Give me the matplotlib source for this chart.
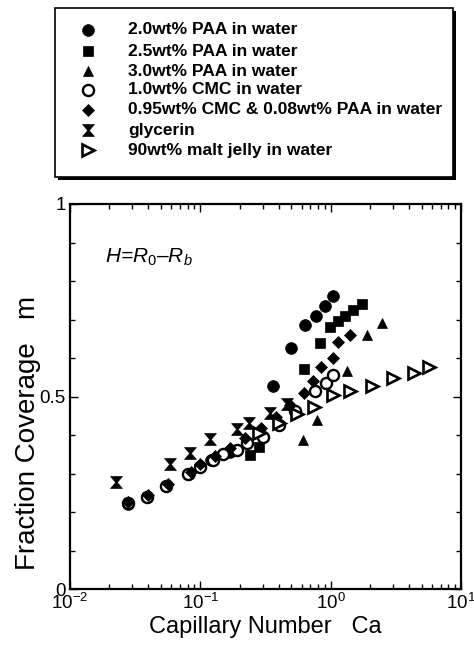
import numpy as np
import matplotlib
matplotlib.use('Agg')
import matplotlib.pyplot as plt
from matplotlib.path import Path
from matplotlib.patches import Rectangle
from matplotlib.ticker import LogLocator, FixedLocator, MultipleLocator, LogFormatterMathtext

plt.rcParams['font.family'] = ['Liberation Sans', 'DejaVu Sans']
plt.rcParams['mathtext.fontset'] = 'custom'
plt.rcParams['mathtext.rm'] = 'Liberation Sans'
plt.rcParams['mathtext.it'] = 'Liberation Sans:italic'
plt.rcParams['mathtext.bf'] = 'Liberation Sans:bold'

# capillary number / fraction coverage for each fluid
paa20_ca = [0.028, 0.039, 0.082, 0.12, 0.17, 0.36, 0.50, 0.64, 0.77, 0.90, 1.04]
paa20_m = [0.222, 0.238, 0.300, 0.335, 0.355, 0.527, 0.626, 0.686, 0.709, 0.734, 0.760]

paa25_ca = [0.24, 0.28, 0.62, 0.83, 0.99, 1.14, 1.29, 1.49, 1.74]
paa25_m = [0.348, 0.369, 0.571, 0.639, 0.681, 0.696, 0.709, 0.725, 0.740]

paa30_ca = [0.61, 0.79, 1.34, 1.90, 2.48]
paa30_m = [0.387, 0.439, 0.566, 0.660, 0.691]

cmc10_ca = [0.028, 0.039, 0.055, 0.080, 0.10, 0.125, 0.15, 0.19, 0.23, 0.30, 0.40, 0.53, 0.76, 0.92, 1.05]
cmc10_m = [0.223, 0.240, 0.268, 0.298, 0.318, 0.336, 0.350, 0.362, 0.378, 0.395, 0.425, 0.462, 0.514, 0.535, 0.556]

mix_ca = [0.028, 0.040, 0.056, 0.085, 0.10, 0.13, 0.17, 0.22, 0.29, 0.38, 0.49, 0.62, 0.73, 0.85, 1.05, 1.14, 1.41]
mix_m = [0.226, 0.243, 0.272, 0.305, 0.325, 0.345, 0.365, 0.392, 0.418, 0.448, 0.478, 0.508, 0.540, 0.577, 0.600, 0.642, 0.660]

gly_ca = [0.0225, 0.0585, 0.0834, 0.119, 0.19, 0.235, 0.34, 0.46]
gly_m = [0.278, 0.325, 0.352, 0.389, 0.415, 0.432, 0.457, 0.480]

malt_ca = [0.28, 0.40, 0.55, 0.74, 1.04, 1.41, 2.08, 3.01, 4.36, 5.69]
malt_m = [0.405, 0.430, 0.455, 0.473, 0.503, 0.514, 0.527, 0.548, 0.561, 0.577]

labels = ['2.0wt% PAA in water', '2.5wt% PAA in water', '3.0wt% PAA in water',
          '1.0wt% CMC in water', '0.95wt% CMC & 0.08wt% PAA in water',
          'glycerin', '90wt% malt jelly in water']

# hourglass marker
hourglass = Path([(-1, 1), (1, 1), (0.12, 0), (1, -1), (-1, -1), (-0.12, 0), (-1, 1)],
                 [Path.MOVETO] + [Path.LINETO] * 5 + [Path.CLOSEPOLY])

styles = [
    dict(marker='o', ms=8.5, mfc='black', mec='black', mew=0.5),
    dict(marker='s', ms=7.8, mfc='black', mec='black', mew=0.5),
    dict(marker='^', ms=7.5, mfc='black', mec='black', mew=0.5),
    dict(marker='o', ms=8.0, mfc='white', mec='black', mew=1.7),
    dict(marker='D', ms=6.2, mfc='black', mec='black', mew=0.5),
    dict(marker=hourglass, ms=8.5, mfc='black', mec='black', mew=0.5),
    dict(marker='>', ms=8.0, mfc='white', mec='black', mew=1.9),
]
series = [(paa20_ca, paa20_m), (paa25_ca, paa25_m), (paa30_ca, paa30_m),
          (cmc10_ca, cmc10_m), (mix_ca, mix_m), (gly_ca, gly_m), (malt_ca, malt_m)]

W, H = 474, 652
fig = plt.figure(figsize=(W / 100, H / 100), dpi=100)

ax = fig.add_axes([70 / W, 1 - 589 / H, 391 / W, 385 / H])
for (xs, ys), st in zip(series, styles):
    ax.plot(xs, ys, linestyle='none', **st)

ax.set_xscale('log')
ax.set_xlim(1e-2, 1e1)
ax.set_ylim(0, 1)
ax.xaxis.set_major_locator(LogLocator(base=10, numticks=10))
ax.xaxis.set_minor_locator(LogLocator(base=10, subs=np.arange(2, 10), numticks=10))
ax.xaxis.set_major_formatter(LogFormatterMathtext())
ax.yaxis.set_major_locator(FixedLocator([0, 0.5, 1]))
ax.yaxis.set_minor_locator(MultipleLocator(0.1))
ax.set_yticklabels(['0', '0.5', '1'])
ax.tick_params(which='both', direction='in', top=True, right=True, width=1.0, labelsize=13.5, pad=3)
ax.tick_params(which='major', length=6)
ax.tick_params(which='minor', length=3.5)
for s in ax.spines.values():
    s.set_linewidth(1.6)

ax.set_xlabel('Capillary Number   Ca', fontsize=17, labelpad=2)
ax.set_ylabel('Fraction Coverage   m', fontsize=20)
ax.yaxis.set_label_coords(-0.075, 0.405)
ax.text(0.0186, 0.862, r'H=R$_0$–R$_b$', fontsize=15, fontstyle='italic',
        va='center', ha='left')

# legend box with drop shadow
lg = fig.add_axes([0, 0, 1, 1], facecolor='none')
lg.set_xlim(0, W)
lg.set_ylim(H, 0)
lg.axis('off')
lg.add_patch(Rectangle((58, 11), 398, 169, facecolor='black', edgecolor='none'))
lg.add_patch(Rectangle((55, 8), 398, 169, facecolor='white', edgecolor='black', linewidth=1.2))
row_y = [30, 51, 71, 90, 110, 130, 150]
for yy, st, lab in zip(row_y, styles, labels):
    lg.plot([88], [yy], linestyle='none', **st)
    lg.text(128, yy, lab, fontsize=12.5, fontweight='bold', va='center', ha='left')

fig.savefig('out.png', dpi=100)
